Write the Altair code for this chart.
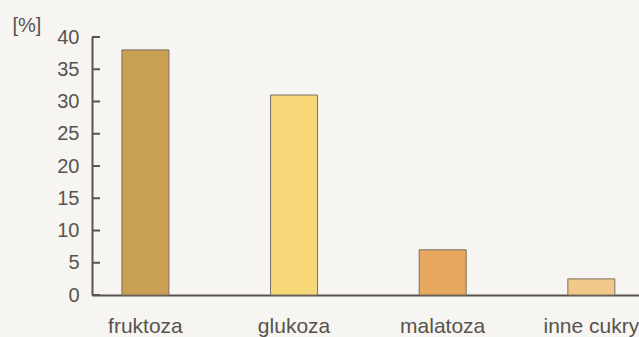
import altair as alt
import pandas as pd

# Share of individual sugars (in %)
sugars = ["fruktoza", "glukoza", "malatoza", "inne cukry"]
shares = [38, 31, 7, 2.5]
fills = ["#c9a052", "#f6d878", "#e8a75e", "#f1c888"]
y_ticks = [0, 5, 10, 15, 20, 25, 30, 35, 40]

ink = "#58534e"
font = "Liberation Sans"

bars_df = pd.DataFrame({"cukier": sugars, "udzial": shares, "kolor": fills})
ticks_df = pd.DataFrame({"udzial": y_ticks})

x_scale = alt.Scale(domain=sugars, paddingInner=0.684, paddingOuter=0.182, align=0.553)
y_scale = alt.Scale(domain=[0, 40], nice=False)

y_axis = alt.Axis(
    title="[%]",
    values=y_ticks,
    ticks=False,
    grid=False,
    labelFont=font,
    labelFontSize=20,
    labelColor=ink,
    labelPadding=13,
    domainColor=ink,
    domainWidth=2,
    titleAngle=0,
    titleX=-80,
    titleY=-6,
    titleAlign="left",
    titleBaseline="alphabetic",
    titleFont=font,
    titleFontSize=20,
    titleFontWeight="normal",
    titleColor=ink,
)

bars = alt.Chart(bars_df).mark_bar(stroke="#7a6f62", strokeWidth=1).encode(
    x=alt.X(
        "cukier:N",
        scale=x_scale,
        sort=sugars,
        axis=alt.Axis(
            title=None,
            labelAngle=0,
            ticks=False,
            labelFont=font,
            labelFontSize=21,
            labelColor=ink,
            labelPadding=37,
            labelBaseline="alphabetic",
            domainColor=ink,
            domainWidth=2,
        ),
    ),
    y=alt.Y("udzial:Q", scale=y_scale, axis=y_axis),
    color=alt.Color("kolor:N", scale=None),
)

# inward-pointing ticks on the value axis
ticks = alt.Chart(ticks_df).mark_rule(color=ink, strokeWidth=2).encode(
    y=alt.Y("udzial:Q", scale=y_scale, axis=y_axis),
    x=alt.value(0),
    x2=alt.value(8),
)

chart = (
    alt.layer(bars, ticks)
    .properties(
        width=547,
        height=258,
        autosize="none",
        padding={"left": 92, "top": 37, "right": 0, "bottom": 42},
        background="#f6f5f1",
    )
    .configure_view(stroke=None)
)

chart.save("out.html", embed_options={"renderer": "svg", "actions": False})
